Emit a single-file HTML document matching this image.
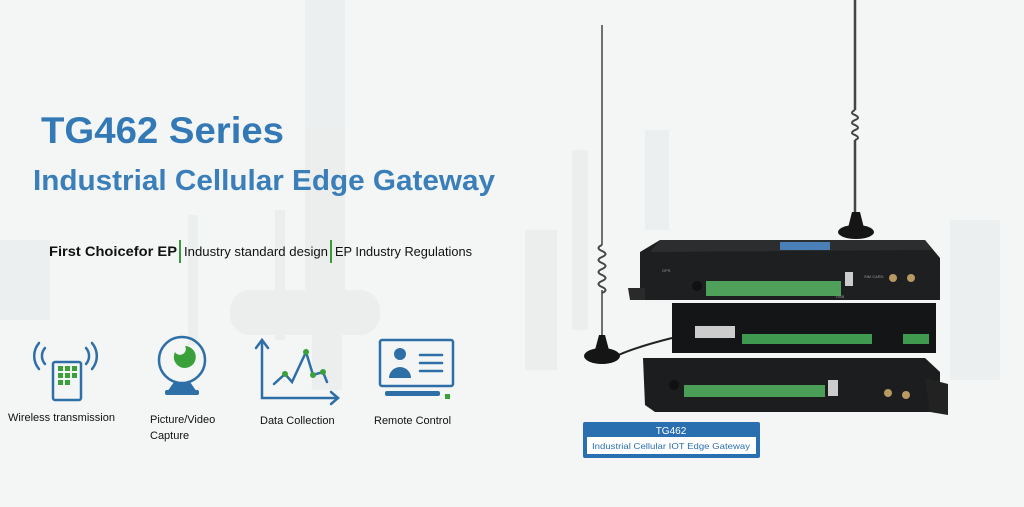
<!DOCTYPE html>
<html><head><meta charset="utf-8"><style>
html,body{margin:0;padding:0;width:1024px;height:507px;overflow:hidden;background:#f3f4f4}
svg{display:block}
</style></head><body>
<svg width="1024" height="507" viewBox="0 0 1024 507" xmlns="http://www.w3.org/2000/svg" font-family="Liberation Sans, sans-serif">
<rect width="1024" height="507" fill="#f4f5f5"/>
<g fill="#e6e9ea" opacity="0.55">
<rect x="305" y="0" width="40" height="330"/>
<rect x="312" y="330" width="30" height="60"/>
<rect x="188" y="215" width="10" height="130"/>
<rect x="275" y="210" width="10" height="130"/>
<rect x="230" y="290" width="150" height="45" rx="20"/>
<rect x="0" y="240" width="50" height="80"/>
<rect x="572" y="150" width="16" height="180"/>
<rect x="950" y="220" width="50" height="160"/>
<rect x="645" y="130" width="24" height="100"/>
<rect x="525" y="230" width="32" height="140"/>
</g>
<text x="41" y="143" font-size="37" font-weight="bold" fill="#3279b5" textLength="243" lengthAdjust="spacingAndGlyphs">TG462 Series</text>
<text x="33" y="190" font-size="29" font-weight="bold" fill="#3a7fb9" textLength="462" lengthAdjust="spacingAndGlyphs">Industrial Cellular Edge Gateway</text>
<text x="49" y="256" font-size="14" font-weight="bold" fill="#111" textLength="128" lengthAdjust="spacingAndGlyphs">First Choicefor EP</text>
<rect x="179" y="240" width="2" height="23" fill="#3a9a3a"/>
<text x="184" y="256" font-size="12.5" fill="#111" textLength="144" lengthAdjust="spacingAndGlyphs">Industry standard design</text>
<rect x="330" y="240" width="2" height="23" fill="#3a9a3a"/>
<text x="335" y="256" font-size="12.5" fill="#111" textLength="137" lengthAdjust="spacingAndGlyphs">EP Industry Regulations</text>
<g stroke="#2f6fa8" fill="none" stroke-width="2.5" stroke-linecap="round">
<path d="M45 348 a12 12 0 0 0 0 16"/><path d="M39 343 a20 20 0 0 0 0 26"/>
<path d="M86 348 a12 12 0 0 1 0 16"/><path d="M92 343 a20 20 0 0 1 0 26"/>
<rect x="53" y="362" width="28" height="38" rx="2"/>
<circle cx="182" cy="360" r="23"/>
<path d="M262 340 V398 H338"/><path d="M256 348 L262 340 L268 348"/><path d="M331 392 L338 398 L331 404" />
<path d="M274 384 L285 374 L292 382 L306 352 L313 375 L323 372 L327 382"/>
<rect x="380" y="340" width="73" height="46" rx="2"/>
<path d="M420 355 h22 M420 363 h22 M420 371 h22"/>
</g>
<g fill="#3aa03a">
<rect x="58" y="366" width="5" height="5"/><rect x="65" y="366" width="5" height="5"/><rect x="72" y="366" width="5" height="5"/>
<rect x="58" y="373" width="5" height="5"/><rect x="65" y="373" width="5" height="5"/><rect x="72" y="373" width="5" height="5"/>
<rect x="58" y="380" width="5" height="5"/><rect x="65" y="380" width="5" height="5"/>
<path d="M175 352 a11 11 0 1 0 10 -6 a4 4 0 0 1 -10 6z"/>
<circle cx="285" cy="374" r="3"/><circle cx="306" cy="352" r="3"/><circle cx="313" cy="375" r="3"/><circle cx="323" cy="372" r="3"/>
<rect x="445" y="394" width="5" height="5"/>
</g>
<g fill="#2f6fa8">
<path d="M167 392 l7 -10 h16 l7 10 z"/>
<rect x="165" y="390" width="34" height="5" rx="2"/>
<circle cx="400" cy="354" r="6"/><path d="M389 378 a11 11 0 0 1 22 0 z"/>
<rect x="385" y="391" width="55" height="5" rx="2"/>
</g>
<g font-size="11" fill="#111">
<text x="8" y="421">Wireless transmission</text>
<text x="150" y="423">Picture/Video</text>
<text x="150" y="439">Capture</text>
<text x="260" y="424">Data Collection</text>
<text x="374" y="424">Remote Control</text>
</g>
<g stroke="#444" stroke-width="2" fill="none">
<line x1="602" y1="25" x2="602" y2="245" stroke-width="1.5"/>
<path d="M602 245 q-7 3 0 6 q7 3 0 6 q-7 3 0 6 q7 3 0 6 q-7 3 0 6 q7 3 0 6 q-7 3 0 6 q7 3 0 6"/>
<line x1="602" y1="290" x2="602" y2="345" stroke-width="1.5"/>
<line x1="855" y1="0" x2="855" y2="110" stroke-width="2.5"/>
<path d="M855 110 q-6 3 0 5 q6 3 0 5 q-6 3 0 5 q6 3 0 5 q-6 3 0 5 q6 3 0 5"/>
<line x1="855" y1="140" x2="855" y2="215" stroke-width="2.5"/>
<path d="M612 358 q20 -10 60 -20" stroke="#222"/>
</g>
<ellipse cx="602" cy="356" rx="18" ry="8" fill="#151515"/><path d="M595 350 L599 335 h6 l4 15z" fill="#151515"/>
<ellipse cx="856" cy="232" rx="18" ry="7" fill="#151515"/><path d="M848 228 L852 212 h8 l4 16z" fill="#151515"/>
<path d="M640 252 L660 240 L925 240 L940 258 L940 300 L640 300z" fill="#1e1f21"/>
<path d="M660 240 L925 240 L932 250 L650 252z" fill="#2c2d2f"/>
<rect x="780" y="242" width="50" height="8" fill="#4a7fb8"/>
<path d="M628 288 L645 288 L645 300 L630 300z" fill="#2a2a2a"/>
<rect x="706" y="281" width="135" height="15" fill="#4fa05a"/>
<rect x="845" y="272" width="8" height="14" fill="#ccc"/>
<circle cx="893" cy="278" r="4" fill="#b89a60"/><circle cx="911" cy="278" r="4" fill="#b89a60"/>
<circle cx="697" cy="286" r="5" fill="#111"/>
<rect x="672" y="303" width="264" height="50" fill="#141516"/>
<rect x="695" y="326" width="22" height="12" fill="#ccc"/><rect x="713" y="326" width="22" height="12" fill="#ccc"/>
<rect x="742" y="334" width="130" height="10" fill="#3f9a50"/>
<rect x="903" y="334" width="26" height="10" fill="#3f9a50"/>
<path d="M643 358 L925 358 L940 372 L940 412 L655 412 L645 405z" fill="#1c1d1f"/>
<path d="M925 378 L948 384 L948 415 L930 412z" fill="#222"/>
<rect x="684" y="385" width="141" height="12" fill="#4a9e58"/>
<rect x="828" y="380" width="10" height="16" fill="#ccc"/>
<circle cx="888" cy="393" r="4" fill="#b89a60"/><circle cx="906" cy="395" r="4" fill="#b89a60"/>
<circle cx="674" cy="385" r="5" fill="#111"/>
<g fill="#9a9a9a" font-size="4"><text x="662" y="272">GPS</text><text x="836" y="298">USB</text><text x="864" y="278">SIM CARD</text></g>
<rect x="583" y="422" width="177" height="36" rx="2" fill="#2a6fb0"/>
<text x="671" y="434" font-size="10" fill="#fff" text-anchor="middle">TG462</text>
<rect x="587" y="437" width="169" height="17" fill="#fff"/>
<text x="671" y="449" font-size="8.5" fill="#2a6fb0" text-anchor="middle" textLength="158" lengthAdjust="spacingAndGlyphs">Industrial Cellular IOT Edge Gateway</text>
</svg>
</body></html>
